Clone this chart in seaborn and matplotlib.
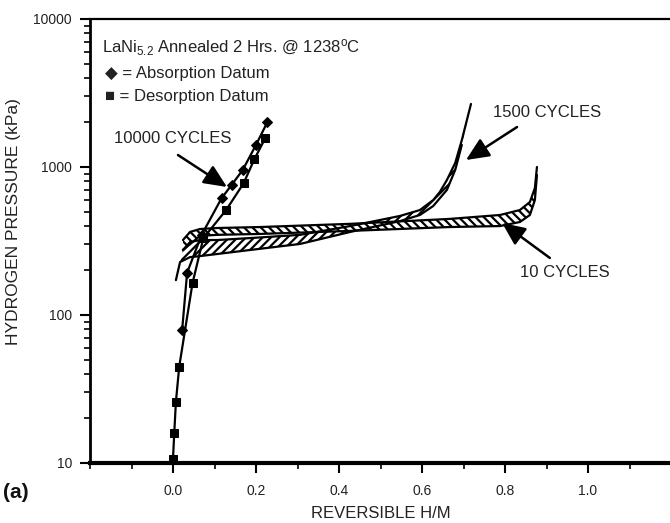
import numpy as np
import pandas as pd
import matplotlib
matplotlib.use('Agg')
import matplotlib.pyplot as plt
import seaborn as sns
from matplotlib.ticker import FixedLocator, NullFormatter, FixedFormatter

# ---------------- data ----------------
# 10000 cycles: absorption (diamonds) and desorption (squares)
abs10000_hm = [0.022, 0.034, 0.069, 0.117, 0.141, 0.168, 0.200, 0.227]
abs10000_p = [79, 193, 348, 615, 755, 955, 1410, 2000]
des10000_hm = [0.0, 0.003, 0.007, 0.015, 0.047, 0.073, 0.128, 0.170, 0.196, 0.222]
des10000_p = [10.7, 15.9, 25.9, 44.8, 164, 330, 512, 775, 1127, 1560]

# 10 cycles hysteresis loop
loop10_abs_hm = [0.024, 0.041, 0.065, 0.106, 0.21, 0.427, 0.667, 0.788, 0.836, 0.86, 0.872, 0.877]
loop10_abs_p = [321, 364, 381, 387, 393, 413, 446, 474, 512, 580, 721, 1000]
loop10_des_hm = [0.024, 0.065, 0.106, 0.21, 0.427, 0.667, 0.788, 0.836, 0.86, 0.872, 0.877]
loop10_des_p = [275, 342, 348, 353, 370, 393, 399, 425, 474, 598, 884]

# 1500 cycles hysteresis loop
loop1500_abs_hm = [0.024, 0.041, 0.065, 0.106, 0.186, 0.306, 0.427, 0.547, 0.595, 0.627, 0.643, 0.66, 0.68, 0.696, 0.718]
loop1500_abs_p = [275, 311, 321, 321, 331, 348, 399, 467, 512, 598, 678, 817, 1064, 1521, 2667]
loop1500_des_hm = [0.007, 0.017, 0.041, 0.065, 0.186, 0.306, 0.427, 0.547, 0.595, 0.627, 0.66, 0.68, 0.696]
loop1500_des_p = [172, 228, 246, 250, 275, 302, 364, 431, 474, 545, 700, 955, 1410]

x_ticks = [0.0, 0.2, 0.4, 0.6, 0.8, 1.0]
x_tick_labels = ['0.0', '0.2', '0.4', '0.6', '0.8', '1.0']
y_ticks = [10, 100, 1000, 10000]
y_tick_labels = ['10', '100', '1000', '10000']

# ---------------- style ----------------
sns.set_style('ticks')
plt.rcParams['font.family'] = ['Liberation Sans', 'DejaVu Sans']
plt.rcParams['hatch.linewidth'] = 1.6
plt.rcParams['mathtext.fontset'] = 'custom'
plt.rcParams['mathtext.rm'] = 'Liberation Sans'
plt.rcParams['mathtext.it'] = 'Liberation Sans'

fig = plt.figure(figsize=(6.7, 5.23), dpi=100)
ax = fig.add_axes([90 / 670, 60 / 523, 581 / 670, 444 / 523])
ax.set_facecolor('white')

# hatched hysteresis loops
for xa, pa, xd, pd_, hatch in [
    (loop1500_abs_hm, loop1500_abs_p, loop1500_des_hm, loop1500_des_p, '////'),
    (loop10_abs_hm, loop10_abs_p, loop10_des_hm, loop10_des_p, '\\\\\\\\'),
]:
    ax.fill(list(xa) + list(xd)[::-1], list(pa) + list(pd_)[::-1],
            facecolor='white', edgecolor='black', hatch=hatch, lw=0, zorder=2)
    sns.lineplot(x=xa, y=pa, sort=False, estimator=None, color='black', lw=1.6, ax=ax, zorder=3)
    sns.lineplot(x=xd, y=pd_, sort=False, estimator=None, color='black', lw=1.6, ax=ax, zorder=3)

# 10000 cycles data
sns.lineplot(x=abs10000_hm, y=abs10000_p, sort=False, estimator=None, color='black', lw=1.6,
             marker='D', markersize=5.5, markeredgecolor='black', ax=ax, zorder=4)
sns.lineplot(x=des10000_hm, y=des10000_p, sort=False, estimator=None, color='black', lw=1.6,
             marker='s', markersize=6, markeredgecolor='black', ax=ax, zorder=4)

ax.set_yscale('log')
ax.set_xlim(-0.2, 1.2)
ax.set_ylim(10, 10000)

ax.xaxis.set_major_locator(FixedLocator(x_ticks))
ax.xaxis.set_major_formatter(FixedFormatter(x_tick_labels))
ax.xaxis.set_minor_locator(FixedLocator([-0.2, -0.1, 0.1, 0.3, 0.5, 0.7, 0.9, 1.1]))
ax.yaxis.set_major_locator(FixedLocator(y_ticks))
ax.yaxis.set_major_formatter(FixedFormatter(y_tick_labels))
ax.yaxis.set_minor_locator(FixedLocator([m * 10 ** e for e in range(1, 4) for m in range(2, 10)]))
ax.yaxis.set_minor_formatter(NullFormatter())

ax.tick_params(axis='both', which='major', direction='out', length=7, width=1.5,
               labelsize=10, color='black', labelcolor='#222222')
ax.tick_params(axis='both', which='minor', direction='out', length=4, width=1.2, color='black')
ax.tick_params(axis='x', which='major', pad=8)
ax.tick_params(axis='y', which='major', pad=6)

for s, w in [('bottom', 3), ('left', 2), ('top', 1.6)]:
    ax.spines[s].set_visible(True)
    ax.spines[s].set_linewidth(w)
    ax.spines[s].set_color('black')
ax.spines['right'].set_visible(False)

ax.set_xlabel('REVERSIBLE H/M', fontsize=12, color='#222222', labelpad=6)
ax.set_ylabel('HYDROGEN PRESSURE (kPa)', fontsize=12.5, color='#222222')
ax.yaxis.set_label_coords(-0.119, 0.543)

# annotation text block
ax.text(0.02, 0.935, r'LaNi$_{5.2}$ Annealed 2 Hrs. @ 1238$^{o}$C', transform=ax.transAxes,
        fontsize=12, ha='left', va='center', color='#222222')
ax.text(0.025, 0.877, '\u25C6 = Absorption Datum', transform=ax.transAxes,
        fontsize=12, ha='left', va='center', color='#222222')
ax.text(0.025, 0.825, '\u25A0 = Desorption Datum', transform=ax.transAxes,
        fontsize=12, ha='left', va='center', color='#222222')

arrow = dict(arrowstyle='-|>,head_length=1.0,head_width=0.45', color='black', lw=1.8,
             shrinkA=0, shrinkB=0, mutation_scale=14)
ax.annotate('', xy=(0.13, 733), xytext=(0.012, 1205), arrowprops=arrow)
ax.text(0.0, 1570, '10000 CYCLES', fontsize=12, ha='center', va='center', color='#222222')
ax.annotate('', xy=(0.706, 1115), xytext=(0.829, 1862), arrowprops=arrow)
ax.text(0.901, 2318, '1500 CYCLES', fontsize=12, ha='center', va='center', color='#222222')
ax.annotate('', xy=(0.793, 419), xytext=(0.908, 243), arrowprops=arrow)
ax.text(0.945, 195, '10 CYCLES', fontsize=12, ha='center', va='center', color='#222222')

fig.text(3 / 670, 1 - 493 / 523, '(a)', fontsize=15, fontweight='bold', ha='left', va='center',
         color='#111111')

fig.savefig('out.png', dpi=100, facecolor='white')
